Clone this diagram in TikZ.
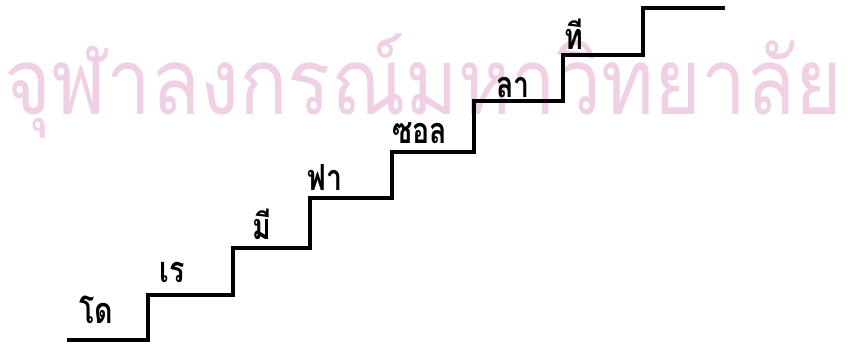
\documentclass[tikz,border=0pt]{standalone}
\usepackage{fontspec}
\newfontfamily\thaifont[Script=Thai]{Loma}
\definecolor{wmark}{RGB}{240,208,228}
\newcommand{\tallnote}[1]{\scalebox{0.95}[1.2]{#1}}
\tikzset{
  stair/.style={line width=3.2pt, line join=miter, black},
  note/.style={font=\thaifont\bfseries\fontsize{30}{30}\selectfont, anchor=base, inner sep=0pt},
  wm/.style={font=\thaifont\fontsize{100}{100}\selectfont, anchor=base west, inner sep=0pt, text=wmark}
}
\begin{document}
\begin{tikzpicture}[x=1pt,y=-1pt]
\useasboundingbox (0,0) rectangle (848,348);
\node[wm] (water) at (4,114) {\scalebox{1}[1.15]{\resizebox{838pt}{!}{จุฬาลงกรณ์มหาวิทยาลัย}}};
% stair corners
\coordinate (s0) at (67,340);
\coordinate (s1) at (148,340);
\coordinate (s2) at (148,295);
\coordinate (s3) at (233,295);
\coordinate (s4) at (233,248);
\coordinate (s5) at (310,248);
\coordinate (s6) at (310,198);
\coordinate (s7) at (392,198);
\coordinate (s8) at (392,152);
\coordinate (s9) at (474,152);
\coordinate (s10) at (474,101);
\coordinate (s11) at (563,101);
\coordinate (s12) at (563,55);
\coordinate (s13) at (643,55);
\coordinate (s14) at (643,8);
\coordinate (s15) at (725,8);
\draw[stair] (s0) -- (s1) -- (s2) -- (s3) -- (s4) -- (s5) -- (s6) -- (s7) -- (s8) -- (s9) -- (s10) -- (s11) -- (s12) -- (s13) -- (s14) -- (s15);
\node[note] (do) at (96,323) {\tallnote{โด}};
\node[note] (re) at (172,282) {\tallnote{เร}};
\node[note] (mi) at (262,239) {\tallnote{มี}};
\node[note] (fa) at (325,190) {\tallnote{ฟา}};
\node[note] (sol) at (420,143) {\tallnote{ซอล}};
\node[note] (la) at (513,97) {\tallnote{ลา}};
\node[note] (ti) at (574,49) {\tallnote{ที}};
\end{tikzpicture}
\end{document}
